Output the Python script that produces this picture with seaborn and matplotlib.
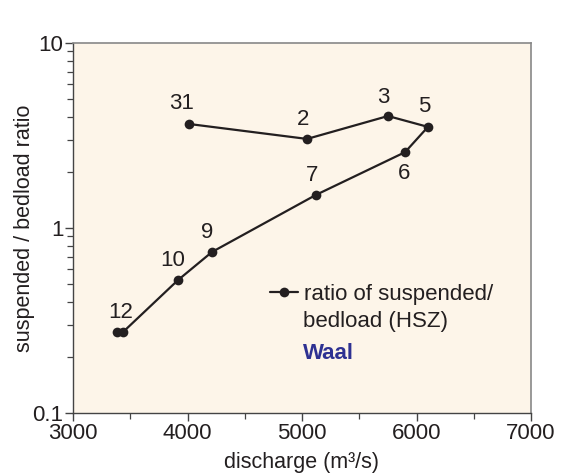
import matplotlib
matplotlib.use("Agg")
import matplotlib.pyplot as plt
import seaborn as sns
import pandas as pd
from matplotlib.ticker import FixedLocator, LogLocator, NullFormatter, FixedFormatter, MultipleLocator

# ---- data ----
labels = ["31", "2", "3", "5", "6", "7", "9", "10", "12", ""]
discharge = [4013, 5044, 5751, 6100, 5900, 5122, 4214, 3917, 3437, 3384]
ratio = [3.65, 3.03, 4.03, 3.52, 2.57, 1.51, 0.742, 0.523, 0.274, 0.274]
label_offsets = [(-7, 20), (-4, 19), (-5, 19), (-4, 20), (-1, -21),
                 (-4, 19), (-5, 19), (-5, 20), (-2, 20), (0, 0)]
x_ticks = [3000, 4000, 5000, 6000, 7000]
y_ticks = [0.1, 1, 10]
y_ticklabels = ["0.1", "1", "10"]

sns.set_theme(style="ticks")
plt.rcParams["font.family"] = ["Liberation Sans", "DejaVu Sans"]

dark = "#231f20"
fig = plt.figure(figsize=(5.68, 4.75), dpi=100)
ax = fig.add_axes([73 / 568, 1 - 413 / 475, (531 - 73) / 568, (413 - 43) / 475])
ax.set_facecolor("#fdf5e9")

df = pd.DataFrame({"discharge": discharge, "ratio": ratio})
sns.lineplot(data=df, x="discharge", y="ratio", sort=False, estimator=None,
             color=dark, linewidth=1.6, marker="o", markersize=7,
             markeredgewidth=0, markerfacecolor=dark, ax=ax,
             label="ratio of suspended/")

ax.set_yscale("log")
ax.set_xlim(3000, 7000)
ax.set_ylim(0.1, 10)

for xv, yv, lab, off in zip(discharge, ratio, labels, label_offsets):
    if lab:
        ax.annotate(lab, (xv, yv), xytext=off, textcoords="offset pixels",
                    ha="center", va="center", fontsize=16, color=dark)

ax.xaxis.set_major_locator(FixedLocator(x_ticks))
ax.xaxis.set_minor_locator(MultipleLocator(500))
ax.yaxis.set_major_locator(FixedLocator(y_ticks))
ax.yaxis.set_major_formatter(FixedFormatter(y_ticklabels))
ax.yaxis.set_minor_locator(LogLocator(base=10, subs=range(2, 10)))
ax.yaxis.set_minor_formatter(NullFormatter())

ax.tick_params(axis="both", which="major", direction="out", length=6, width=1,
               color="#444444", labelsize=16, labelcolor=dark, pad=1)
ax.tick_params(axis="both", which="minor", direction="out", length=4, width=0.9,
               color="#444444")

for side in ["left", "bottom"]:
    ax.spines[side].set_color("#444444")
    ax.spines[side].set_linewidth(1.0)
for side in ["top", "right"]:
    ax.spines[side].set_color("#888888")
    ax.spines[side].set_linewidth(1.2)

ax.set_xlabel("discharge (m³/s)", fontsize=15.5, color=dark, labelpad=6)
ax.set_ylabel("suspended / bedload ratio", fontsize=15.5, color=dark, labelpad=-2)

leg = ax.legend(loc="center left", bbox_to_anchor=(0.43, 0.3216), frameon=False,
                fontsize=16, handlelength=1.25, handletextpad=0.3, borderpad=0,
                borderaxespad=0, labelcolor=dark)
ax.text(0.502, 0.246, "bedload (HSZ)", transform=ax.transAxes, fontsize=16,
        color=dark, ha="left", va="center")
ax.text(0.502, 0.162, "Waal", transform=ax.transAxes, fontsize=16,
        color="#2e3192", fontweight="bold", ha="left", va="center")

fig.savefig("out.png", dpi=100, facecolor="white")
